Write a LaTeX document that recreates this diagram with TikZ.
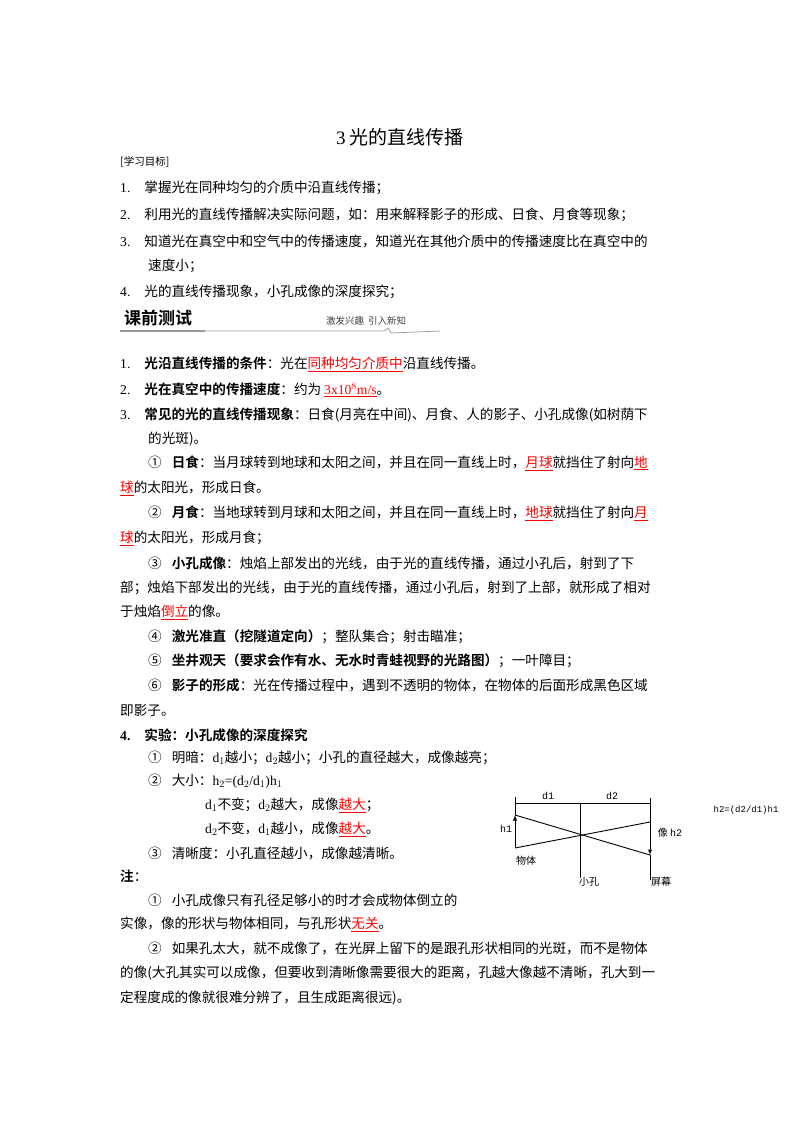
\documentclass[tikz,border=0pt]{standalone}
\usepackage{fontspec}
\setmainfont{Noto Sans CJK SC}[BoldFont={Noto Sans CJK SC Bold}]
\newfontfamily\tmf{Liberation Serif}
\newfontfamily\monof{Liberation Mono}
\newcommand{\tm}[1]{{\tmf #1}}
\newcommand{\ru}[1]{{\color{red}\underline{#1}}}
\begin{document}
\begin{tikzpicture}[x=1pt,y=-1pt,
  tx/.style={anchor=west,inner sep=0pt,font=\fontsize{13.6}{16}\selectfont},
  sm/.style={inner sep=0pt,font=\fontsize{10}{12}\selectfont},
  ln/.style={line width=0.9pt}]
\useasboundingbox (0,0) rectangle (800,1132);
\node[inner sep=0pt,font=\fontsize{19}{22}\selectfont] (title) at (400,137) {\tm{3} 光的直线传播};
\node[tx,font=\fontsize{10.5}{12}\selectfont] (goal) at (120,162) {[学习目标]};
\node[tx] (g1) at (120,188) {\tm{1.}\hspace{14pt}掌握光在同种均匀的介质中沿直线传播；};
\node[tx] (g2) at (120,215) {\tm{2.}\hspace{14pt}利用光的直线传播解决实际问题，如：用来解释影子的形成、日食、月食等现象；};
\node[tx] (g3) at (120,241) {\tm{3.}\hspace{14pt}知道光在真空中和空气中的传播速度，知道光在其他介质中的传播速度比在真空中的};
\node[tx] (g3b) at (148,266) {速度小；};
\node[tx] (g4) at (120,292) {\tm{4.}\hspace{14pt}光的直线传播现象，小孔成像的深度探究；};
% header bar
\node[anchor=west,inner sep=0pt,font=\fontsize{17}{20}\bfseries] (kq) at (124,318) {课前测试};
\node[anchor=west,inner sep=0pt,font=\fontsize{9.5}{11}\itshape,text=black!75] (jf) at (326,321) {激发兴趣\hspace{4pt}引入新知};
\coordinate (b0) at (120,331);\coordinate (b1) at (205,331);
\coordinate (b2) at (384,331);\coordinate (b3) at (388,328);\coordinate (b4) at (391,333);\coordinate (b5) at (440,331);
\draw[line width=2.5pt,gray!80] (b0) -- (b1);
\draw[gray!80,line width=0.7pt] (b1) -- (b2) -- (b3) -- (b4) -- (b5);
% items
\node[tx] (p1) at (120,364) {\tm{1.}\hspace{14pt}\textbf{光沿直线传播的条件}：光在\ru{同种均匀介质中}沿直线传播。};
\node[tx] (p2) at (120,390) {\tm{2.}\hspace{14pt}\textbf{光在真空中的传播速度}：约为 \ru{\tm{3x10$^{8}$m/s}}。};
\node[tx] (p3) at (120,415) {\tm{3.}\hspace{14pt}\textbf{常见的光的直线传播现象}：日食(月亮在中间)、月食、人的影子、小孔成像(如树荫下};
\node[tx] (p3b) at (148,439) {的光斑)。};
\node[tx] (r1) at (148,463) {①\hspace{10pt}\textbf{日食}：当月球转到地球和太阳之间，并且在同一直线上时，\ru{月球}就挡住了射向\ru{地}};
\node[tx] (r1b) at (120,488) {\ru{球}的太阳光，形成日食。};
\node[tx] (r2) at (148,513) {②\hspace{10pt}\textbf{月食}：当地球转到月球和太阳之间，并且在同一直线上时，\ru{地球}就挡住了射向\ru{月}};
\node[tx] (r2b) at (120,538) {\ru{球}的太阳光，形成月食；};
\node[tx] (r3) at (148,563) {③\hspace{10pt}\textbf{小孔成像}：烛焰上部发出的光线，由于光的直线传播，通过小孔后，射到了下};
\node[tx] (r3b) at (120,588) {部；烛焰下部发出的光线，由于光的直线传播，通过小孔后，射到了上部，就形成了相对};
\node[tx] (r3c) at (120,612) {于烛焰\ru{倒立}的像。};
\node[tx] (r4) at (148,637) {④\hspace{10pt}\textbf{激光准直（挖隧道定向）}；整队集合；射击瞄准；};
\node[tx] (r5) at (148,661) {⑤\hspace{10pt}\textbf{坐井观天（要求会作有水、无水时青蛙视野的光路图）}；一叶障目；};
\node[tx] (r6) at (148,685) {⑥\hspace{10pt}\textbf{影子的形成}：光在传播过程中，遇到不透明的物体，在物体的后面形成黑色区域};
\node[tx] (r6b) at (120,710) {即影子。};
\node[tx] (p4) at (120,735) {\textbf{\tm{4.}}\hspace{14pt}\textbf{实验：小孔成像的深度探究}};
\node[tx] (s1) at (148,758) {①\hspace{10pt}明暗：\tm{d$_1$}越小；\tm{d$_2$}越小；小孔的直径越大，成像越亮；};
\node[tx] (s2) at (148,781) {②\hspace{10pt}大小：\tm{h$_2$=(d$_2$/d$_1$)h$_1$}};
\node[tx] (s2a) at (205,805) {\tm{d$_1$}不变；\tm{d$_2$}越大，成像\ru{越大}；};
\node[tx] (s2b) at (205,829) {\tm{d$_2$}不变，\tm{d$_1$}越小，成像\ru{越大}。};
\node[tx] (s3) at (148,853) {③\hspace{10pt}清晰度：小孔直径越小，成像越清晰。};
\node[tx] (zhu) at (120,876) {\textbf{注}：};
\node[tx] (z1) at (148,900) {①\hspace{10pt}小孔成像只有孔径足够小的时才会成物体倒立的};
\node[tx] (z1b) at (120,924) {实像，像的形状与物体相同，与孔形状\ru{无关}。};
\node[tx] (z2) at (148,948) {②\hspace{10pt}如果孔太大，就不成像了，在光屏上留下的是跟孔形状相同的光斑，而不是物体};
\node[tx] (z2b) at (120,973) {的像(大孔其实可以成像，但要收到清晰像需要很大的距离，孔越大像越不清晰，孔大到一};
\node[tx] (z2c) at (120,998) {定程度成的像就很难分辨了，且生成距离很远)。};
% diagram
\coordinate (L0) at (515,797);\coordinate (L1) at (515,848);\coordinate (Lt) at (515,815);
\coordinate (Dl) at (515,803);\coordinate (Dm) at (580,803);\coordinate (Dr) at (650,803);
\coordinate (H0) at (580,803);\coordinate (H1) at (580,878);
\coordinate (S0) at (650,798);\coordinate (S1) at (650,880);
\coordinate (Sa) at (650,822);\coordinate (Sb) at (650,855);
\draw[ln] (L0) -- (Lt);
\draw[ln,-latex] (L1) -- (Lt);
\draw[ln] (Dl) -- (Dr);
\draw[ln] (H0) -- (H1);
\draw[ln] (S0) -- (Sa);
\draw[ln,-latex] (Sa) -- (Sb);
\draw[ln] (S1) -- (Sb);
\draw[ln] (Lt) -- (Sb);
\draw[ln] (L1) -- (Sa);
\node[sm,font=\fontsize{10}{12}\monof] (d1) at (548,796) {d1};
\node[sm,font=\fontsize{10}{12}\monof] (d2) at (612,796) {d2};
\node[sm,font=\fontsize{10}{12}\monof] (h1) at (506,829) {h1};
\node[sm] (xh2) at (670,833) {像 {\monof h2}};
\node[sm] (wt) at (526,861) {物体};
\node[sm] (xk) at (589,882) {小孔};
\node[sm] (pm) at (661,882) {屏幕};
\node[sm,font=\fontsize{9}{11}\monof] (fm) at (746,810) {h2=(d2/d1)h1};
\end{tikzpicture}
\end{document}
